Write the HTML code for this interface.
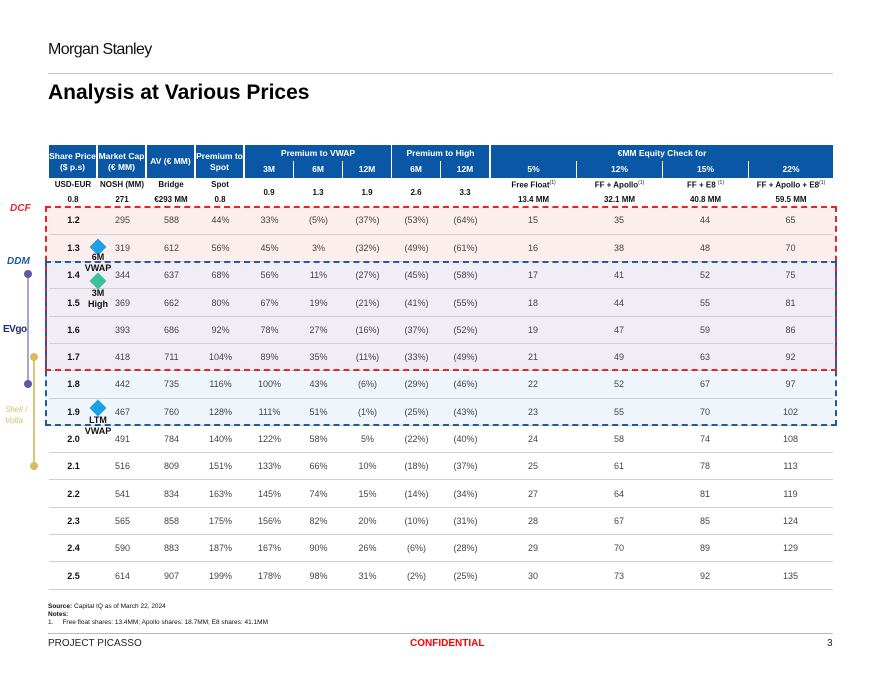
<!DOCTYPE html>
<html><head><meta charset="utf-8">
<style>
*{margin:0;padding:0;box-sizing:border-box}
body{width:880px;height:680px;background:#fff;font-family:"Liberation Sans",Arial,sans-serif;position:relative;overflow:hidden;color:#222}
.a{position:absolute}
.hd{position:absolute;background:#0a58a5;color:#fff;font-weight:bold;font-size:8.5px;text-align:center;display:flex;align-items:center;justify-content:center;line-height:1.25}
table{position:absolute;left:49px;top:207px;border-collapse:collapse;table-layout:fixed;width:784px}
td{height:27.3px;font-size:9px;color:#444;text-align:center;border-bottom:1px solid #cfcfcf;padding:0}
td:first-child{font-weight:bold;color:#111}
.sh{position:absolute;font-size:8px;font-weight:bold;text-align:center;color:#111}
sup{font-size:5px;font-weight:normal}
.dia{position:absolute;width:12px;height:12px;transform:rotate(45deg)}
.lbl{position:absolute;font-size:9px;font-weight:bold;color:#111;text-align:center;line-height:11px;width:40px}
.dot{position:absolute;width:8px;height:8px;border-radius:50%}
</style></head><body>
<div class="a" style="left:48px;top:41px;font-size:16px;color:#111;letter-spacing:-0.6px">Morgan Stanley</div>
<div class="a" style="left:48px;top:73px;width:785px;height:1px;background:#c8c8c8"></div>
<div class="a" style="left:48px;top:81px;font-size:21px;font-weight:bold;color:#000">Analysis at Various Prices</div>

<div class="a" style="left:45px;top:207px;width:791px;height:55px;background:#fdeeee"></div>
<div class="a" style="left:45px;top:262px;width:791px;height:109px;background:#f1edf4"></div>
<div class="a" style="left:45px;top:371px;width:791px;height:54px;background:#eef5fb"></div>

<div class="hd" style="left:49px;top:145px;width:47px;height:33px">Share Price<br>($ p.s)</div>
<div class="hd" style="left:98px;top:145px;width:47px;height:33px">Market Cap<br>(€ MM)</div>
<div class="hd" style="left:147px;top:145px;width:47px;height:33px">AV (€ MM)</div>
<div class="hd" style="left:196px;top:145px;width:47px;height:33px">Premium to<br>Spot</div>
<div class="hd" style="left:245px;top:145px;width:146px;height:16px">Premium to VWAP</div>
<div class="hd" style="left:392px;top:145px;width:97px;height:16px">Premium to High</div>
<div class="hd" style="left:491px;top:145px;width:342px;height:16px">€MM Equity Check for</div>
<div class="hd" style="left:245px;top:161px;width:48px;height:17px">3M</div>
<div class="hd" style="left:294px;top:161px;width:48px;height:17px">6M</div>
<div class="hd" style="left:343px;top:161px;width:48px;height:17px">12M</div>
<div class="hd" style="left:392px;top:161px;width:48px;height:17px">6M</div>
<div class="hd" style="left:441px;top:161px;width:48px;height:17px">12M</div>
<div class="hd" style="left:491px;top:161px;width:85px;height:17px">5%</div>
<div class="hd" style="left:577px;top:161px;width:85px;height:17px">12%</div>
<div class="hd" style="left:663px;top:161px;width:85px;height:17px">15%</div>
<div class="hd" style="left:749px;top:161px;width:84px;height:17px">22%</div>

<div class="sh" style="left:49px;top:180px;width:48px">USD-EUR</div>
<div class="sh" style="left:98px;top:180px;width:48px">NOSH (MM)</div>
<div class="sh" style="left:147px;top:180px;width:48px">Bridge</div>
<div class="sh" style="left:196px;top:180px;width:48px">Spot</div>
<div class="sh" style="left:49px;top:195px;width:48px">0.8</div>
<div class="sh" style="left:98px;top:195px;width:48px">271</div>
<div class="sh" style="left:147px;top:195px;width:48px">€293 MM</div>
<div class="sh" style="left:196px;top:195px;width:48px">0.8</div>
<div class="sh" style="left:245px;top:188px;width:48px">0.9</div>
<div class="sh" style="left:294px;top:188px;width:48px">1.3</div>
<div class="sh" style="left:343px;top:188px;width:48px">1.9</div>
<div class="sh" style="left:392px;top:188px;width:48px">2.6</div>
<div class="sh" style="left:441px;top:188px;width:48px">3.3</div>
<div class="sh" style="left:491px;top:180px;width:85px">Free Float<sup>(1)</sup></div>
<div class="sh" style="left:577px;top:180px;width:85px">FF + Apollo<sup>(1)</sup></div>
<div class="sh" style="left:663px;top:180px;width:85px">FF + E8 <sup>(1)</sup></div>
<div class="sh" style="left:749px;top:180px;width:84px">FF + Apollo + E8<sup>(1)</sup></div>
<div class="sh" style="left:491px;top:195px;width:85px">13.4 MM</div>
<div class="sh" style="left:577px;top:195px;width:85px">32.1 MM</div>
<div class="sh" style="left:663px;top:195px;width:85px">40.8 MM</div>
<div class="sh" style="left:749px;top:195px;width:84px">59.5 MM</div>

<table>
<colgroup><col style="width:49px"><col style="width:49px"><col style="width:49px"><col style="width:49px"><col style="width:49px"><col style="width:49px"><col style="width:49px"><col style="width:49px"><col style="width:49px"><col style="width:86px"><col style="width:86px"><col style="width:86px"><col style="width:85px"></colgroup>
<tr><td>1.2</td><td>295</td><td>588</td><td>44%</td><td>33%</td><td>(5%)</td><td>(37%)</td><td>(53%)</td><td>(64%)</td><td>15</td><td>35</td><td>44</td><td>65</td></tr>
<tr><td>1.3</td><td>319</td><td>612</td><td>56%</td><td>45%</td><td>3%</td><td>(32%)</td><td>(49%)</td><td>(61%)</td><td>16</td><td>38</td><td>48</td><td>70</td></tr>
<tr><td>1.4</td><td>344</td><td>637</td><td>68%</td><td>56%</td><td>11%</td><td>(27%)</td><td>(45%)</td><td>(58%)</td><td>17</td><td>41</td><td>52</td><td>75</td></tr>
<tr><td>1.5</td><td>369</td><td>662</td><td>80%</td><td>67%</td><td>19%</td><td>(21%)</td><td>(41%)</td><td>(55%)</td><td>18</td><td>44</td><td>55</td><td>81</td></tr>
<tr><td>1.6</td><td>393</td><td>686</td><td>92%</td><td>78%</td><td>27%</td><td>(16%)</td><td>(37%)</td><td>(52%)</td><td>19</td><td>47</td><td>59</td><td>86</td></tr>
<tr><td>1.7</td><td>418</td><td>711</td><td>104%</td><td>89%</td><td>35%</td><td>(11%)</td><td>(33%)</td><td>(49%)</td><td>21</td><td>49</td><td>63</td><td>92</td></tr>
<tr><td>1.8</td><td>442</td><td>735</td><td>116%</td><td>100%</td><td>43%</td><td>(6%)</td><td>(29%)</td><td>(46%)</td><td>22</td><td>52</td><td>67</td><td>97</td></tr>
<tr><td>1.9</td><td>467</td><td>760</td><td>128%</td><td>111%</td><td>51%</td><td>(1%)</td><td>(25%)</td><td>(43%)</td><td>23</td><td>55</td><td>70</td><td>102</td></tr>
<tr><td>2.0</td><td>491</td><td>784</td><td>140%</td><td>122%</td><td>58%</td><td>5%</td><td>(22%)</td><td>(40%)</td><td>24</td><td>58</td><td>74</td><td>108</td></tr>
<tr><td>2.1</td><td>516</td><td>809</td><td>151%</td><td>133%</td><td>66%</td><td>10%</td><td>(18%)</td><td>(37%)</td><td>25</td><td>61</td><td>78</td><td>113</td></tr>
<tr><td>2.2</td><td>541</td><td>834</td><td>163%</td><td>145%</td><td>74%</td><td>15%</td><td>(14%)</td><td>(34%)</td><td>27</td><td>64</td><td>81</td><td>119</td></tr>
<tr><td>2.3</td><td>565</td><td>858</td><td>175%</td><td>156%</td><td>82%</td><td>20%</td><td>(10%)</td><td>(31%)</td><td>28</td><td>67</td><td>85</td><td>124</td></tr>
<tr><td>2.4</td><td>590</td><td>883</td><td>187%</td><td>167%</td><td>90%</td><td>26%</td><td>(6%)</td><td>(28%)</td><td>29</td><td>70</td><td>89</td><td>129</td></tr>
<tr><td>2.5</td><td>614</td><td>907</td><td>199%</td><td>178%</td><td>98%</td><td>31%</td><td>(2%)</td><td>(25%)</td><td>30</td><td>73</td><td>92</td><td>135</td></tr>
</table>

<div class="a" style="left:45px;top:206px;width:792px;height:165px;border:2px dashed #e8232a"></div>
<div class="a" style="left:45px;top:261px;width:792px;height:165px;border:2px dashed #1f5aa6"></div>

<div class="a" style="left:10px;top:203px;font-size:10px;font-weight:bold;font-style:italic;color:#e8232a">DCF</div>
<div class="a" style="left:7px;top:256px;font-size:10px;font-weight:bold;font-style:italic;color:#1f5aa6">DDM</div>
<div class="a" style="left:3px;top:324px;font-size:10px;font-weight:bold;color:#1a2f6e;letter-spacing:-0.5px">EVgo</div>
<div class="a" style="left:5px;top:404px;font-size:8px;font-style:italic;color:#d9bf6a;line-height:11px">Shell /<br>Volta</div>
<div class="a" style="left:27px;top:274px;width:2px;height:110px;background:#a8a6d6"></div>
<div class="dot" style="left:24px;top:270px;background:#5a5aa8"></div>
<div class="dot" style="left:24px;top:380px;background:#5a5aa8"></div>
<div class="a" style="left:33px;top:357px;width:2px;height:110px;background:#dcc57a"></div>
<div class="dot" style="left:30px;top:353px;background:#d9bb62"></div>
<div class="dot" style="left:30px;top:462px;background:#d9bb62"></div>

<div class="dia" style="left:92px;top:241px;background:#1ea0e6"></div>
<div class="lbl" style="left:78px;top:252px">6M<br>VWAP</div>
<div class="dia" style="left:92px;top:275px;background:#3cbf9a"></div>
<div class="lbl" style="left:78px;top:288px">3M<br>High</div>
<div class="dia" style="left:92px;top:402px;background:#1ea0e6"></div>
<div class="lbl" style="left:78px;top:415px">LTM<br>VWAP</div>

<div class="a" style="left:48px;top:603px;font-size:6.5px;line-height:8px;color:#111"><b>Source:</b> Capital IQ as of March 22, 2024<br><b>Notes:</b><br>1.&nbsp;&nbsp;&nbsp;&nbsp;&nbsp;Free float shares: 13.4MM; Apollo shares: 18.7MM; E8 shares: 41.1MM</div>
<div class="a" style="left:48px;top:633px;width:785px;height:1px;background:#bbb"></div>
<div class="a" style="left:48px;top:638px;font-size:10px;color:#222">PROJECT PICASSO</div>
<div class="a" style="left:410px;top:638px;font-size:10px;font-weight:bold;color:#f00">CONFIDENTIAL</div>
<div class="a" style="left:827px;top:638px;font-size:10px;color:#222">3</div>
</body></html>
